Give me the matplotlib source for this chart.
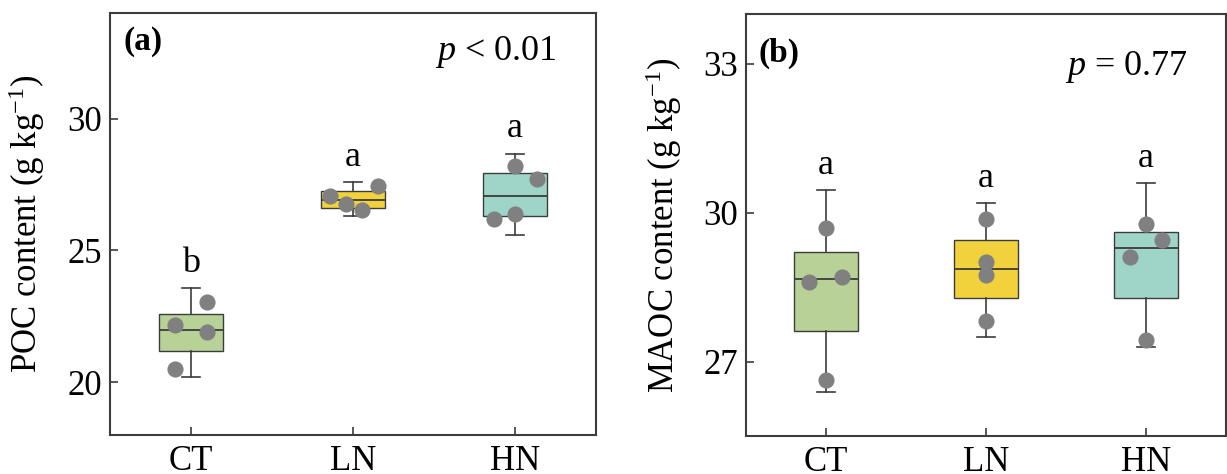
import matplotlib
matplotlib.use("Agg")
import matplotlib.pyplot as plt

plt.rcParams['font.family'] = ['Liberation Serif', 'DejaVu Serif']
plt.rcParams['mathtext.fontset'] = 'custom'
plt.rcParams['mathtext.rm'] = 'Liberation Serif'
plt.rcParams['mathtext.it'] = 'Liberation Serif:italic'

groups = ['CT', 'LN', 'HN']
colors = ['#b8d196', '#f2d23c', '#9fd5c9']

# box statistics: whislo, q1, med, q3, whishi
poc_box = [
    [20.19, 21.19, 21.99, 22.58, 23.56],
    [26.29, 26.61, 26.91, 27.25, 27.58],
    [25.57, 26.29, 27.05, 27.94, 28.67],
]
maoc_box = [
    [26.38, 27.62, 28.66, 29.20, 30.45],
    [27.50, 28.28, 28.87, 29.44, 30.19],
    [27.29, 28.28, 29.28, 29.60, 30.59],
]

# individual samples
poc_pts = [
    [22.16, 23.04, 21.89, 20.51],
    [27.06, 26.75, 26.52, 27.46],
    [28.19, 27.72, 26.20, 26.39],
]
maoc_pts = [
    [29.69, 28.60, 28.71, 26.63],
    [29.87, 29.01, 28.74, 27.81],
    [29.77, 29.44, 29.11, 27.44],
]

poc_letters = ['b', 'a', 'a']
maoc_letters = ['a', 'a', 'a']

# horizontal jitter of the dots (fraction of category spacing)
poc_jit = [[-0.1, 0.1, 0.1, -0.1], [-0.145, -0.045, 0.053, 0.155], [0.0, 0.135, -0.13, 0.0]]
maoc_jit = [[0.0, -0.105, 0.1, 0.0], [0.0, 0.0, 0.0, 0.0], [0.0, 0.1, -0.1, 0.0]]

edge = '#3c3c3c'


def draw_panel(ax, box, pts, jit, letters, ylim, yticks, ylabel, tag, ptext, tag_y, p_y):
    stats = []
    for g, b in zip(groups, box):
        stats.append(dict(label=g, whislo=b[0], q1=b[1], med=b[2], q3=b[3], whishi=b[4], fliers=[]))
    bp = ax.bxp(stats, positions=range(3), widths=0.4, patch_artist=True,
                showfliers=False, capwidths=0.11,
                boxprops=dict(edgecolor=edge, linewidth=1.0),
                medianprops=dict(color=edge, linewidth=1.3),
                whiskerprops=dict(color=edge, linewidth=1.2),
                capprops=dict(color=edge, linewidth=1.2))
    for patch, c in zip(bp['boxes'], colors):
        patch.set_facecolor(c)
    for i, (vals, js) in enumerate(zip(pts, jit)):
        ax.scatter([i + j for j in js], vals, s=135, color='#808080', zorder=3, linewidths=0)
    for i, (b, l) in enumerate(zip(box, letters)):
        ax.annotate(l, (i, b[4]), xytext=(0, 12), textcoords='offset points',
                    ha='center', va='baseline', fontsize=26)
    ax.set_xlim(-0.5, 2.5)
    ax.set_ylim(*ylim)
    ax.set_yticks(yticks)
    ax.set_xticks(range(3))
    ax.set_xticklabels(groups)
    ax.tick_params(direction='in', length=6, width=1.2, color=edge, labelsize=25)
    ax.tick_params(axis='y', pad=6)
    ax.tick_params(axis='x', pad=7)
    for s in ax.spines.values():
        s.set_color(edge)
        s.set_linewidth(1.5)
    ax.set_ylabel(ylabel, fontsize=25)
    ax.yaxis.set_label_coords(-0.13, 0.5)
    ax.text(0.027, tag_y, tag, transform=ax.transAxes, fontsize=24, fontweight='bold',
            ha='left', va='baseline')
    ax.text(0.92, p_y, ptext, transform=ax.transAxes, fontsize=26, ha='right', va='baseline')


fig = plt.figure(figsize=(12.27, 4.74), dpi=100)
ax1 = fig.add_axes([0.0897, 0.0823, 0.396, 0.890])
ax2 = fig.add_axes([0.608, 0.0802, 0.391, 0.890])

draw_panel(ax1, poc_box, poc_pts, poc_jit, poc_letters, (18, 34), [20, 25, 30],
           'POC content (g kg$^{-1}$)', '(a)', '$p$ < 0.01', 0.912, 0.889)
draw_panel(ax2, maoc_box, maoc_pts, maoc_jit, maoc_letters, (25.5, 34), [27, 30, 33],
           'MAOC content (g kg$^{-1}$)', '(b)', '$p$ = 0.77', 0.886, 0.855)

fig.savefig('out.png', dpi=100)
